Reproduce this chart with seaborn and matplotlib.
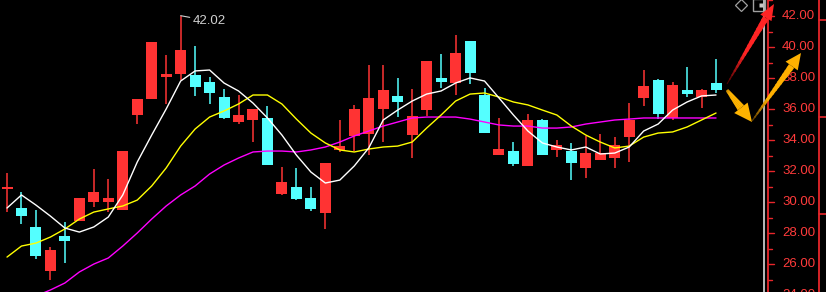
import numpy as np
import pandas as pd
import seaborn as sns
import matplotlib
matplotlib.use("Agg")
import matplotlib.pyplot as plt
from matplotlib.patches import Polygon
from matplotlib.colors import to_rgb
from matplotlib.transforms import blended_transform_factory

# ---------------- data ----------------
opens = [30.85, 29.63, 28.40, 25.57, 27.82, 28.79, 30.02, 30.02, 29.50, 35.62,
         36.65, 38.07, 38.26, 38.20, 37.75, 36.78, 35.17, 35.30, 35.43, 30.53,
         30.98, 30.27, 29.31, 33.37, 34.27, 34.40, 36.01, 36.85, 34.33, 35.94,
         38.01, 37.68, 40.39, 36.91, 33.04, 33.30, 32.34, 35.30, 33.37, 33.30,
         32.21, 32.72, 32.85, 34.20, 36.72, 37.88, 35.43, 37.23, 36.78, 37.68]
highs = [31.88, 30.66, 29.50, 27.12, 28.73, 30.27, 32.14, 31.50, 33.30, 36.65,
         40.32, 39.49, 42.02, 40.07, 38.07, 37.30, 36.91, 36.01, 36.20, 32.27,
         32.21, 30.98, 32.53, 35.30, 36.27, 38.84, 38.84, 38.01, 37.30, 39.10,
         39.55, 40.78, 40.39, 37.36, 35.43, 33.88, 35.69, 35.36, 34.01, 33.82,
         34.27, 34.40, 34.20, 36.39, 38.52, 37.94, 37.75, 38.71, 37.30, 39.23]
lows = [29.37, 28.60, 26.34, 24.99, 26.09, 28.79, 29.69, 29.37, 29.50, 35.04,
        36.65, 36.33, 37.88, 36.85, 36.33, 35.36, 35.04, 33.88, 32.40, 30.47,
        30.14, 29.44, 28.28, 33.24, 33.30, 33.04, 33.88, 35.49, 32.85, 35.56,
        37.36, 36.91, 37.62, 34.46, 33.04, 32.34, 32.34, 33.04, 32.91, 31.43,
        31.56, 32.72, 32.21, 32.59, 36.20, 35.36, 35.30, 36.78, 36.07, 37.04]
closes = [30.92, 29.11, 26.54, 26.92, 27.50, 30.27, 30.66, 30.27, 33.30, 36.65,
          40.32, 38.26, 39.81, 37.43, 37.04, 35.43, 35.62, 36.01, 32.40, 31.30,
          30.21, 29.56, 32.53, 33.62, 36.01, 36.72, 37.23, 36.46, 35.56, 39.10,
          37.75, 39.62, 38.33, 34.46, 33.43, 32.46, 35.30, 33.04, 33.69, 32.53,
          33.17, 33.17, 33.69, 35.30, 37.49, 35.69, 37.55, 36.97, 37.23, 37.23]

ma_white = [29.63, 30.47, 29.82, 29.11, 28.34, 28.08, 28.41, 29.05, 30.47, 32.59,
            34.33, 36.01, 37.81, 38.46, 38.52, 37.68, 37.17, 36.39, 35.43, 34.33,
            33.04, 31.95, 31.24, 31.43, 32.34, 33.50, 35.30, 35.94, 36.52, 36.97,
            37.17, 37.68, 38.01, 37.81, 36.72, 35.62, 34.59, 33.82, 33.56, 33.37,
            33.56, 33.11, 33.17, 33.56, 34.59, 35.04, 35.94, 36.46, 36.85, 36.91]
ma_yellow = [26.47, 27.18, 27.37, 27.76, 28.28, 28.92, 29.37, 29.57, 29.76, 30.14,
             31.05, 32.21, 33.62, 34.72, 35.49, 35.88, 36.33, 36.91, 36.91, 36.33,
             35.36, 34.46, 33.82, 33.37, 33.24, 33.43, 33.56, 33.62, 33.88, 34.78,
             35.62, 36.52, 36.97, 37.04, 36.78, 36.46, 36.27, 35.94, 35.62, 34.91,
             34.33, 33.88, 33.50, 33.62, 34.20, 34.46, 34.53, 34.85, 35.30, 35.75]
ma_magenta = [23.06, 23.51, 23.96, 24.35, 24.80, 25.51, 26.02, 26.41, 27.18, 28.02,
              28.92, 29.76, 30.47, 31.05, 31.82, 32.40, 32.85, 33.24, 33.30, 33.30,
              33.24, 33.37, 33.56, 33.88, 34.27, 34.59, 34.91, 35.17, 35.43, 35.49,
              35.49, 35.49, 35.36, 35.17, 34.98, 34.91, 34.91, 34.78, 34.78, 34.85,
              35.04, 35.17, 35.30, 35.36, 35.43, 35.43, 35.43, 35.43, 35.43, 35.43]

tick_values = [24, 26, 28, 30, 32, 34, 36, 38, 40, 42]
tick_labels = ["24.00", "26.00", "28.00", "30.00", "32.00", "34.00",
               "36.00", "38.00", "40.00", "42.00"]
peak_label = "42.02"
peak_index = 12

# ---------------- styling ----------------
sns.set_theme(style="dark")
plt.rcParams["font.family"] = ["DejaVu Sans"]
BG = "#000000"
UP = "#FF3333"
DOWN = "#54FFFF"
AXRED = "#E8262B"

df = pd.DataFrame({"i": np.arange(len(opens)), "open": opens, "high": highs,
                   "low": lows, "close": closes, "ma5": ma_white,
                   "ma10": ma_yellow, "ma20": ma_magenta})
df["up"] = df["close"] >= df["open"]

fig = plt.figure(figsize=(8.26, 2.92), dpi=100, facecolor=BG)
ax = fig.add_axes([0, 0, 1, 1])
ax.set_facecolor(BG)

# candles
colors = np.where(df["up"], UP, DOWN)
ax.vlines(df["i"], df["low"], df["high"], colors=colors, linewidth=1.1, zorder=2)
body_bottom = np.minimum(df["open"], df["close"])
body_h = np.maximum((df["close"] - df["open"]).abs(), 0.12)
ax.bar(df["i"], body_h, bottom=body_bottom, width=0.76, color=colors,
       linewidth=0, zorder=3)

# moving averages
sns.lineplot(data=df, x="i", y="ma20", color="#FF00FF", linewidth=1.0, ax=ax, zorder=4)
sns.lineplot(data=df, x="i", y="ma10", color="#FFFF00", linewidth=1.0, ax=ax, zorder=4)
sns.lineplot(data=df, x="i", y="ma5", color="#FFFFFF", linewidth=1.0, ax=ax, zorder=5)

ax.set_xlim(-0.484, 56.6)
ax.set_ylim(24.22, 43.03)
ax.set_xticks([])
ax.set_yticks([])
ax.set_xlabel("")
ax.set_ylabel("")
ax.grid(False)
for s in ax.spines.values():
    s.set_visible(False)

W, H = 826.0, 292.0
def fx(px):
    return px / W
def fy(py):
    return 1 - py / H

bt = blended_transform_factory(ax.transAxes, ax.transData)

# right-side axis decoration
def vline_px(px, color, lw):
    ax.plot([fx(px), fx(px)], [0, 1], transform=ax.transAxes, color=color,
            linewidth=lw, zorder=6, solid_capstyle="butt")

vline_px(764, "#C8C8C8", 1.3)
vline_px(768, AXRED, 1.3)
vline_px(819, AXRED, 1.3)
for py in [20, 117, 214]:
    ax.plot([fx(819), 1.0], [fy(py), fy(py)], transform=ax.transAxes,
            color=AXRED, linewidth=1.2, zorder=6)
for v in range(24, 44):
    x2 = fx(774) if v % 2 == 0 else fx(772)
    ax.plot([fx(768), x2], [v, v], transform=bt, color=AXRED, linewidth=1.0, zorder=6)
for v, lab in zip(tick_values, tick_labels):
    ax.text(fx(782), v, lab, transform=bt, color="#FF3B3B", fontsize=9.5,
            family=["Liberation Sans", "DejaVu Sans"], ha="left", va="center", zorder=7)

# top icons
ax.plot([fx(741)], [fy(5)], marker="D", markersize=6, markerfacecolor="none",
        markeredgecolor="#A0A0A0", markeredgewidth=0.9, transform=ax.transAxes,
        zorder=7, clip_on=False)
ax.plot([fx(759)], [fy(5)], marker="s", markersize=8, markerfacecolor="none",
        markeredgecolor="#A0A0A0", markeredgewidth=1.0, transform=ax.transAxes,
        zorder=7, clip_on=False)
ax.plot([fx(761)], [fy(5)], marker="s", markersize=3.5, markerfacecolor="#C8C8C8",
        markeredgecolor="none", transform=ax.transAxes, zorder=7)


# arrows (drawn as tapered polygons in pixel space, placed in axes fraction)
def arrow_px(tail, tip, tail_w, neck_w, head_w, head_len, col_tail, col_head,
             fade=0.35, nseg=16):
    tail = np.array(tail, float)
    tip = np.array(tip, float)
    d = tip - tail
    L = np.hypot(*d)
    u = d / L
    n = np.array([-u[1], u[0]])
    neck = tip - u * head_len
    c0 = np.array(to_rgb(col_tail))
    c1 = np.array(to_rgb(col_head))
    for k in range(nseg):
        t0, t1 = k / nseg, (k + 1) / nseg
        p0 = tail + (neck - tail) * t0
        p1 = tail + (neck - tail) * min(t1 + 0.02, 1.0)
        w0 = tail_w + (neck_w - tail_w) * t0
        w1 = tail_w + (neck_w - tail_w) * t1
        pts = [p0 + n * w0 / 2, p1 + n * w1 / 2, p1 - n * w1 / 2, p0 - n * w0 / 2]
        tm = min(((t0 + t1) / 2) / fade, 1.0)
        col = c0 + (c1 - c0) * tm
        ax.add_patch(Polygon([(fx(p[0]), fy(p[1])) for p in pts], closed=True,
                             transform=ax.transAxes, facecolor=col,
                             edgecolor="none", zorder=8))
    head = [tip, neck + n * head_w / 2, neck - n * head_w / 2]
    ax.add_patch(Polygon([(fx(p[0]), fy(p[1])) for p in head], closed=True,
                         transform=ax.transAxes, facecolor=col_head,
                         edgecolor="none", zorder=8))

arrow_px((727, 84), (774, 4), 1.0, 6.5, 13, 16, "#400000", "#FF2424", fade=0.45)
arrow_px((727, 90), (752, 122), 3.0, 8.0, 17, 18, "#D08C00", "#FFB400", fade=0.2)
arrow_px((752, 121), (801, 53), 1.2, 6.5, 15, 16, "#503400", "#FFB000", fade=0.4)

# peak label
ax.annotate(peak_label, xy=(peak_index, highs[peak_index]),
            xytext=(fx(193), fy(21)), textcoords="axes fraction",
            color="#D0D0D0", fontsize=9.5, family=["Liberation Sans", "DejaVu Sans"],
            ha="left", va="center",
            arrowprops=dict(arrowstyle="-", color="#D0D0D0", linewidth=0.8,
                            shrinkA=0, shrinkB=0), zorder=8)

fig.savefig("out.png", dpi=100, facecolor=BG)
